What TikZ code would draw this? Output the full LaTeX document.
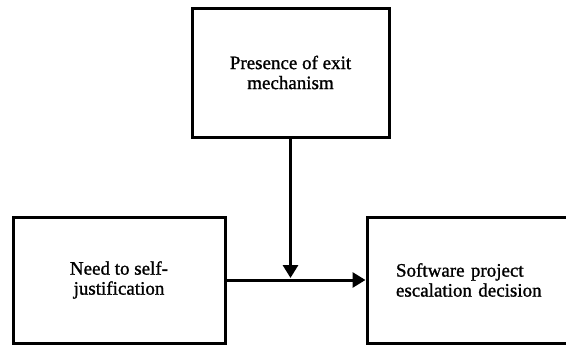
\documentclass[tikz,border=0pt]{standalone}
\usepackage{fontspec}
\setmainfont{Liberation Serif}
\newfontfamily\boxfont{Liberation Serif}[FakeBold=1.2]
\usetikzlibrary{arrows.meta}
\begin{document}
\begin{tikzpicture}[x=1pt,y=1pt,
  box/.style={draw=black,line width=3pt,rectangle,inner sep=0pt,align=center,
    font=\boxfont\fontsize{19}{20}\selectfont},
  arr/.style={line width=3pt,-{Triangle[length=13pt,width=15pt]}}]
\useasboundingbox (0,0) rectangle (566,-346);
\node[box,minimum width=197pt,minimum height=129pt] (top) at (290.5,-72.5) {Presence of exit\\mechanism};
\node[box,minimum width=212pt,minimum height=126pt] (left) at (119,-280) {Need to self-\\justification};
\node[box,minimum height=126pt,text width=175pt,inner xsep=29pt,align=left] (right) at (483.5,-280) {Software project\\escalation decision};
\coordinate (m) at (top.south |- 0,-278);
\draw[arr] (left.east) -- (right.west);
\draw[arr] (top.south) -- (m);
\end{tikzpicture}
\end{document}
